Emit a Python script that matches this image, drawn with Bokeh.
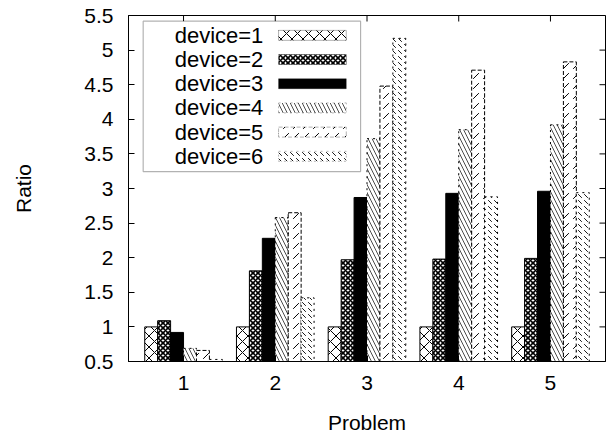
import math
from bokeh.plotting import figure
from bokeh.models import (ColumnDataSource, FixedTicker, Range1d, BoxAnnotation,
                          CustomJSTickFormatter, Label)
from bokeh.transform import dodge
from bokeh.embed import file_html
from bokeh.resources import INLINE

# ---- data ----
problems = [1, 2, 3, 4, 5]
device1 = [1.00, 1.00, 1.00, 1.00, 1.00]
device2 = [1.09, 1.81, 1.97, 1.98, 1.99]
device3 = [0.92, 2.28, 2.87, 2.93, 2.96]
device4 = [0.69, 2.58, 3.72, 3.85, 3.92]
device5 = [0.66, 2.65, 4.48, 4.71, 4.83]
device6 = [0.53, 1.42, 5.17, 2.88, 2.94]
series_labels = ["device=1", "device=2", "device=3", "device=4", "device=5", "device=6"]
y_ticks = [0.5, 1, 1.5, 2, 2.5, 3, 3.5, 4, 4.5, 5, 5.5]
x_ticks = [1, 2, 3, 4, 5]

FONT = "Liberation Sans"
FS = "21px"
LFS = "22px"
X0, X1, Y0, Y1 = 0.4, 5.6, 0.5, 5.5

src = ColumnDataSource(dict(problem=problems, d1=device1, d2=device2, d3=device3,
                            d4=device4, d5=device5, d6=device6))

p = figure(width=608, height=436, output_backend="svg", toolbar_location=None,
           x_range=Range1d(X0, X1), y_range=Range1d(Y0, Y1),
           min_border_left=128, min_border_right=3, min_border_top=15, min_border_bottom=73)
p.grid.visible = False
p.outline_line_color = "black"
p.outline_line_width = 1
p.background_fill_color = "white"
p.border_fill_color = "white"

styles = [
    dict(fill_color="white", hatch_pattern="x", hatch_scale=11, hatch_weight=1, line_dash="solid"),
    dict(fill_color="white", hatch_pattern="x", hatch_scale=5, hatch_weight=1.6, line_dash="solid"),
    dict(fill_color="black", line_dash="solid"),
    dict(fill_color="white", hatch_pattern="\\", hatch_scale=8, hatch_weight=0.7, line_dash="dotted"),
    dict(fill_color="white", hatch_pattern=",", hatch_scale=10, hatch_weight=1, line_dash="4 2"),
    dict(fill_color="white", hatch_pattern="`", hatch_scale=6, hatch_weight=0.9, line_dash="dotted"),
]

bw = 0.141
cols = ["d1", "d2", "d3", "d4", "d5", "d6"]
for i, (c, st) in enumerate(zip(cols, styles)):
    off = (i - 2.5) * bw
    p.vbar(x=dodge("problem", off, range=p.x_range), top=c, bottom=0, width=bw,
           source=src, line_color="black", line_width=1, hatch_color="black", **st)

# axes
fmt = CustomJSTickFormatter(code="return tick.toString();")
for ax in (p.xaxis[0], p.yaxis[0]):
    ax.major_tick_in = 6
    ax.major_tick_out = 0
    ax.minor_tick_line_color = None
    ax.axis_line_color = "black"
    ax.major_label_text_font = FONT
    ax.major_label_text_font_size = FS
    ax.major_label_text_color = "black"
    ax.axis_label_text_font = FONT
    ax.axis_label_text_font_size = FS
    ax.axis_label_text_font_style = "normal"
    ax.axis_label_text_color = "black"
p.xaxis.ticker = FixedTicker(ticks=x_ticks)
p.yaxis.ticker = FixedTicker(ticks=y_ticks)
p.xaxis.formatter = fmt
p.yaxis.formatter = fmt
p.xaxis.axis_label = "Problem"
p.yaxis.axis_label = "Ratio"
p.yaxis.major_label_standoff = 15
p.xaxis.major_label_standoff = 14
p.yaxis.axis_label_standoff = 46
p.xaxis.axis_label_standoff = 18

# mirrored tick marks on the right and top borders (clipped to the frame)
p.scatter(x=[X1] * len(y_ticks), y=y_ticks, marker="dash", size=12,
          line_color="black", line_width=1)
p.scatter(x=x_ticks, y=[Y1] * len(x_ticks), marker="dash", angle=math.pi / 2, size=12,
          line_color="black", line_width=1)

# legend (drawn manually: label left, sample right)
lx0, lx1, ly0, ly1 = 0.56, 2.93, 3.245, 5.418
p.add_layout(BoxAnnotation(left=lx0, right=lx1, bottom=ly0, top=ly1,
                           fill_color="white", fill_alpha=1, line_color="black",
                           line_width=1.2, level="overlay"))
row_h = 0.3495
row_y = [5.213 - k * row_h for k in range(len(series_labels))]
for k, (lbl, st) in enumerate(zip(series_labels, styles)):
    p.add_layout(Label(x=1.87, y=row_y[k], text=lbl, text_align="right",
                       text_baseline="middle", text_font=FONT, text_font_size=LFS,
                       text_color="black", level="overlay"))
    p.add_layout(BoxAnnotation(left=2.036, right=2.774, bottom=row_y[k] - 0.072,
                               top=row_y[k] + 0.072, line_color="black", line_width=1,
                               fill_alpha=1, hatch_color="black", level="overlay", **st))

open("out.html", "w").write(file_html(p, INLINE))
